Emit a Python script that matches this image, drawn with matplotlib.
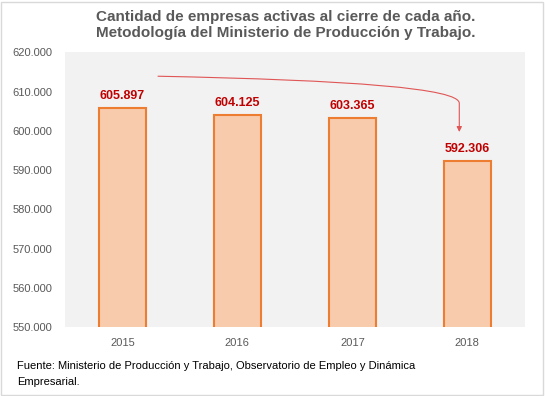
import matplotlib
matplotlib.use("Agg")
import matplotlib.pyplot as plt
from matplotlib.patches import FancyArrowPatch, Rectangle
from matplotlib.path import Path
from matplotlib.ticker import FuncFormatter

plt.rcParams["font.family"] = ["Liberation Sans", "DejaVu Sans"]

# Data
years = ["2015", "2016", "2017", "2018"]
empresas = [605897, 604125, 603365, 592306]

title = ("Cantidad de empresas activas al cierre de cada año.\n"
         "Metodología del Ministerio de Producción y Trabajo.")
source = ("Fuente: Ministerio de Producción y Trabajo, Observatorio de Empleo y Dinámica\n"
          "Empresarial.")

def miles(v, pos=None):
    return f"{int(v):,}".replace(",", ".")

fig = plt.figure(figsize=(5.45, 3.96), dpi=100)
fig.patch.set_facecolor("white")
fig.patches.append(Rectangle((0.002, 0.003), 0.995, 0.993, transform=fig.transFigure,
                             fill=False, edgecolor="#d9d9d9", linewidth=1))

ax = fig.add_axes([0.119, 0.174, 0.844, 0.694])
ax.set_facecolor("#f2f2f2")

x = range(len(years))
ax.bar(x, empresas, width=0.41, color="#f8cbad", edgecolor="#ed7d31", linewidth=1.5, zorder=2)

for xi, v in zip(x, empresas):
    ax.annotate(miles(v), (xi, v), xytext=(0, 4), textcoords="offset points",
                ha="center", va="bottom", color="#c00000", fontweight="bold", fontsize=9)

ax.set_ylim(550000, 620000)
ax.set_xlim(-0.5, 3.5)
ax.set_yticks(range(550000, 620001, 10000))
ax.yaxis.set_major_formatter(FuncFormatter(miles))
ax.set_xticks(list(x))
ax.set_xticklabels(years)
ax.tick_params(axis="both", length=0, colors="#595959", labelsize=8)
ax.tick_params(axis="y", pad=9)
ax.tick_params(axis="x", pad=8)
for s in ax.spines.values():
    s.set_visible(False)

# curved trend arrow from 2015 towards 2018
verts = [(0.31, 613900), (2.0, 612900), (2.93, 610800), (2.93, 607000), (2.93, 599700)]
codes = [Path.MOVETO, Path.CURVE4, Path.CURVE4, Path.CURVE4, Path.LINETO]
arrow = FancyArrowPatch(path=Path(verts, codes), arrowstyle="-|>,head_length=3,head_width=1.5",
                        color="#e05555", linewidth=0.8, zorder=3)
ax.add_patch(arrow)

fig.text(0.525, 0.975, title, ha="center", va="top", fontsize=11, fontweight="bold",
         color="#595959", linespacing=1.15)
fig.text(0.031, 0.088, source, ha="left", va="top", fontsize=8, color="black", linespacing=1.75)

fig.savefig("out.png", dpi=100)
